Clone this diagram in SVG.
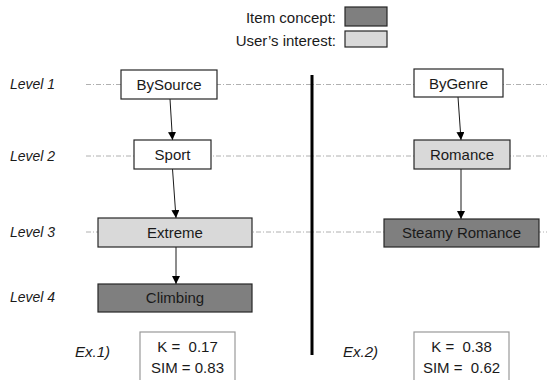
<svg xmlns="http://www.w3.org/2000/svg" width="547" height="380" viewBox="0 0 547 380">
<defs>
<style>
text{font-family:"Liberation Sans",Arial,sans-serif;fill:#1a1a1a}
.lvl{font-size:14px;font-style:italic}
.nt{font-size:15px;text-anchor:middle}
.pre{white-space:pre}
.box{stroke:#262626;stroke-width:1.2}
.white{fill:#ffffff}
.light{fill:#d9d9d9}
.dark{fill:#7f7f7f}
.guide{stroke:#b0b0b0;stroke-width:1;stroke-dasharray:5 2 1 2;fill:none}
.conn{stroke:#1a1a1a;stroke-width:1;fill:none}
.kbox{fill:#fff;stroke:#999;stroke-width:1.2}
</style>
<marker id="arr" viewBox="0 0 10 10" refX="10" refY="5" markerWidth="8" markerHeight="8" markerUnits="userSpaceOnUse" orient="auto">
<path d="M0,0 L10,5 L0,10 z" fill="#000"/>
</marker>
</defs>
<rect width="547" height="380" fill="#fff"/>

<g id="legend">
<text x="336" y="23" style="font-size:15px" text-anchor="end">Item concept:</text>
<rect x="345" y="7" width="42" height="19" class="box dark"/>
<text x="336" y="46" style="font-size:15px" text-anchor="end">User’s interest:</text>
<rect x="345" y="31" width="42" height="16" class="box light"/>
</g>

<g id="guides">
<line x1="86" y1="84.5" x2="547" y2="84.5" class="guide"/>
<line x1="86" y1="156" x2="547" y2="156" class="guide"/>
<line x1="86" y1="232" x2="547" y2="232" class="guide"/>
</g>

<g id="levels">
<text x="10" y="89" class="lvl">Level 1</text>
<text x="10" y="161" class="lvl">Level 2</text>
<text x="10" y="237" class="lvl">Level 3</text>
<text x="10" y="302" class="lvl">Level 4</text>
</g>

<line id="divider" x1="312" y1="75" x2="312" y2="355" stroke="#000" stroke-width="3"/>

<g id="connectors">
<line x1="170" y1="99" x2="172.5" y2="140" class="conn" marker-end="url(#arr)"/>
<line x1="172.5" y1="169" x2="176" y2="218" class="conn" marker-end="url(#arr)"/>
<line x1="176" y1="247" x2="176" y2="284" class="conn" marker-end="url(#arr)"/>
<line x1="458" y1="97" x2="461" y2="140" class="conn" marker-end="url(#arr)"/>
<line x1="461" y1="169" x2="461" y2="219" class="conn" marker-end="url(#arr)"/>
</g>

<g id="BySource">
<rect x="121" y="70" width="96" height="29" class="box white"/>
<text x="169" y="90" class="nt">BySource</text>
</g>
<g id="Sport">
<rect x="134" y="140" width="77" height="29" class="box white"/>
<text x="172.5" y="160" class="nt">Sport</text>
</g>
<g id="Extreme">
<rect x="98" y="218" width="154" height="29" class="box light"/>
<text x="175" y="238" class="nt">Extreme</text>
</g>
<g id="Climbing">
<rect x="98" y="284" width="154" height="28" class="box dark"/>
<text x="175" y="303" class="nt">Climbing</text>
</g>

<g id="ByGenre">
<rect x="414" y="69" width="89" height="28" class="box white"/>
<text x="458.5" y="89" class="nt">ByGenre</text>
</g>
<g id="Romance">
<rect x="414" y="140" width="96" height="29" class="box light"/>
<text x="462" y="160" class="nt">Romance</text>
</g>
<g id="SteamyRomance">
<rect x="384" y="219" width="155" height="28" class="box dark"/>
<text x="461.5" y="238" class="nt">Steamy Romance</text>
</g>

<g id="ex1">
<text x="75" y="357" class="lvl" style="font-size:15px">Ex.1)</text>
<rect x="140" y="332" width="95" height="52" class="kbox"/>
<text x="187.5" y="352" class="nt pre">K =  0.17</text>
<text x="187.5" y="373" class="nt pre">SIM = 0.83</text>
</g>
<g id="ex2">
<text x="343" y="357" class="lvl" style="font-size:15px">Ex.2)</text>
<rect x="414" y="332" width="95" height="52" class="kbox"/>
<text x="461.5" y="352" class="nt pre">K =  0.38</text>
<text x="461.5" y="373" class="nt pre">SIM =  0.62</text>
</g>
</svg>
